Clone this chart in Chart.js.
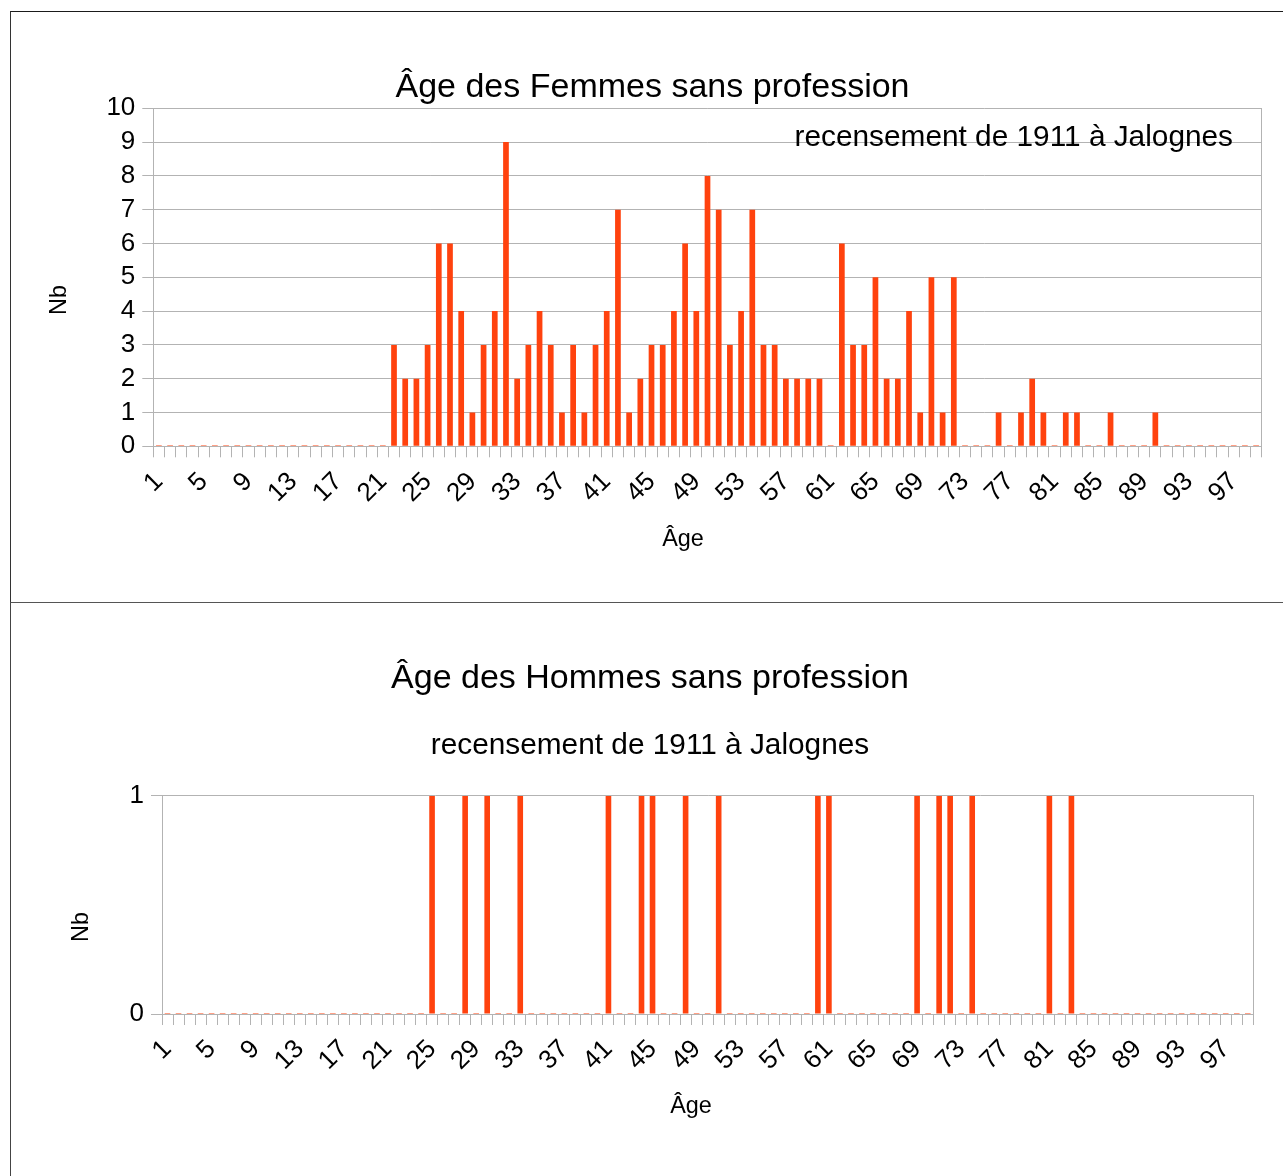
<!DOCTYPE html>
<html>
<head>
<meta charset="utf-8">
<script src="https://cdn.jsdelivr.net/npm/chart.js@4"></script>
<style>
  html, body { margin: 0; padding: 0; background: #fff; overflow: hidden; width: 1283px; height: 1176px; }
  .box { position: absolute; background: #fff; }
  #boxTop { left: 10px; top: 11px; width: 1300px; height: 590px; border-top: 1px solid #1a1a1a; border-left: 1px solid #333; }
  #boxBottom { left: 10px; top: 602px; width: 1300px; height: 600px; border-top: 1px solid #555; border-left: 1px solid #444; }
  canvas { position: absolute; left: 0; top: 0; }
</style>
</head>
<body>
<div class="box" id="boxTop"><canvas id="cTop" width="1283" height="590"></canvas></div>
<div class="box" id="boxBottom"><canvas id="cBottom" width="1278" height="573"></canvas></div>
<script>
// ---- Data ----
const ages = ['1','2','3','4','5','6','7','8','9','10','11','12','13','14','15','16','17','18','19','20',
  '21','22','23','24','25','26','27','28','29','30','31','32','33','34','35','36','37','38','39','40',
  '41','42','43','44','45','46','47','48','49','50','51','52','53','54','55','56','57','58','59','60',
  '61','62','63','64','65','66','67','68','69','70','71','72','73','74','75','76','77','78','79','80',
  '81','82','83','84','85','86','87','88','89','90','91','92','93','94','95','96','97','98','99'];

const shownAgeLabels = ['1','5','9','13','17','21','25','29','33','37','41','45','49','53','57','61','65','69','73','77','81','85','89','93','97'];

// Femmes sans profession (ages 1..99)
const femmes = [
  0,0,0,0,0,0,0,0,0,0,      // 1-10
  0,0,0,0,0,0,0,0,0,0,      // 11-20
  0,3,2,2,3,6,6,4,1,3,      // 21-30
  4,9,2,3,4,3,1,3,1,3,      // 31-40
  4,7,1,2,3,3,4,6,4,8,      // 41-50
  7,3,4,7,3,3,2,2,2,2,      // 51-60
  0,6,3,3,5,2,2,4,1,5,      // 61-70
  1,5,0,0,0,1,0,1,2,1,      // 71-80
  0,1,1,0,0,1,0,0,0,1,      // 81-90
  0,0,0,0,0,0,0,0,0         // 91-99
];

// Hommes sans profession (ages 1..99)
const hommes = [
  0,0,0,0,0,0,0,0,0,0,      // 1-10
  0,0,0,0,0,0,0,0,0,0,      // 11-20
  0,0,0,0,1,0,0,1,0,1,      // 21-30
  0,0,1,0,0,0,0,0,0,0,      // 31-40
  1,0,0,1,1,0,0,1,0,0,      // 41-50
  1,0,0,0,0,0,0,0,0,1,      // 51-60
  1,0,0,0,0,0,0,0,1,0,      // 61-70
  1,1,0,1,0,0,0,0,0,0,      // 71-80
  1,0,1,0,0,0,0,0,0,0,      // 81-90
  0,0,0,0,0,0,0,0,0         // 91-99
];

const titleFemmes = 'Âge des Femmes sans profession';
const titleHommes = 'Âge des Hommes sans profession';
const subtitleText = 'recensement de 1911 à Jalognes';
const xTitle = 'Âge';
const yTitle = 'Nb';

// ---- Styles ----
const BAR = '#ff420e';
const GRID = '#b3b3b3';
const FONT = "'Liberation Sans', Arial, sans-serif";
Chart.defaults.font.family = FONT;
Chart.defaults.color = '#000';

// Axis titles (placed like the original LibreOffice layout) and the in-plot subtitle
const extraText = {
  id: 'extraText',
  afterDatasetsDraw(chart, args, opts) {
    const {ctx, chartArea} = chart;
    ctx.save();
    ctx.fillStyle = '#000';
    if (opts.innerSubtitle) {
      ctx.font = '29.8px ' + FONT;
      ctx.textAlign = 'right';
      ctx.textBaseline = 'alphabetic';
      ctx.fillText(opts.innerSubtitle, chartArea.right - opts.subDx, chartArea.top + opts.subDy);
    }
    ctx.font = '23.4px ' + FONT;
    ctx.textAlign = 'center';
    ctx.textBaseline = 'middle';
    // x axis title
    ctx.fillText(opts.xText, (chartArea.left + chartArea.right) / 2 + opts.xDx, chartArea.bottom + opts.xDy);
    // y axis title
    ctx.translate(chartArea.left - opts.nbDx, (chartArea.top + chartArea.bottom) / 2 + opts.nbDy);
    ctx.rotate(-Math.PI / 2);
    ctx.fillText(opts.yText, 0, 0);
    ctx.restore();
  }
};

function makeChart(id, data, cfg) {
  return new Chart(document.getElementById(id), {
    type: 'bar',
    data: {
      labels: ages,
      datasets: [{
        data: data,
        backgroundColor: BAR,
        borderWidth: 0,
        barPercentage: 0.51,
        categoryPercentage: 1.0,
        minBarLength: 1
      }]
    },
    options: {
      responsive: false,
      animation: false,
      events: [],
      layout: { padding: { left: 0, right: 0, top: 0, bottom: cfg.padBottom } },
      plugins: {
        legend: { display: false },
        tooltip: { enabled: false },
        title: {
          display: true,
          text: cfg.title,
          font: { size: 34, weight: 'normal' },
          color: '#000',
          padding: { top: 54.8, bottom: cfg.titlePadBottom }
        },
        subtitle: cfg.subtitle ? {
          display: true,
          text: cfg.subtitle,
          font: { size: 29.8, weight: 'normal' },
          color: '#000',
          padding: { top: 29.2, bottom: 32.4 }
        } : { display: false },
        extraText: {
          innerSubtitle: cfg.innerSubtitle || null,
          subDx: 28.7, subDy: 37.2,
          xText: xTitle, xDx: cfg.xDx, xDy: 93,
          yText: yTitle, nbDx: cfg.nbDx, nbDy: cfg.nbDy
        }
      },
      scales: {
        x: {
          grid: { display: true, drawOnChartArea: false, drawTicks: true, tickLength: 11, color: GRID, offset: true },
          border: { display: true, color: GRID },
          ticks: {
            autoSkip: false,
            maxRotation: 45,
            minRotation: 45,
            padding: 9,
            font: { size: 26 },
            color: '#000',
            callback: function(value, index) {
              const lab = ages[index];
              return shownAgeLabels.includes(lab) ? lab : '';
            }
          },
          title: { display: false },
          afterFit: (s) => { s.height = cfg.xHeight; }
        },
        y: {
          min: 0,
          max: cfg.yMax,
          grid: { color: GRID, tickLength: 11, drawTicks: true },
          border: { display: true, color: GRID },
          ticks: { stepSize: 1, autoSkip: false, maxTicksLimit: 20, padding: 7, font: { size: 26 }, color: '#000' },
          afterFit: (s) => { s.width = cfg.yWidth; }
        },
        y2: {
          position: 'right',
          min: 0,
          max: cfg.yMax,
          grid: { drawOnChartArea: false, drawTicks: false },
          border: { display: true, color: GRID },
          ticks: { display: false },
          afterFit: (s) => { s.width = cfg.rightWidth; }
        }
      }
    },
    plugins: [extraText]
  });
}

makeChart('cTop', femmes, {
  title: titleFemmes,
  subtitle: null,
  innerSubtitle: subtitleText,
  titlePadBottom: 0.7,
  rightWidth: 32.3,
  padBottom: 49,
  xHeight: 106.7,
  yWidth: 142.3,
  yMax: 10,
  xDx: -24.5,
  nbDx: 93.3,
  nbDy: 22.7
});

makeChart('cBottom', hommes, {
  title: titleHommes,
  subtitle: subtitleText,
  titlePadBottom: 0,
  rightWidth: 35.7,
  padBottom: 55,
  xHeight: 107,
  yWidth: 151,
  yMax: 1,
  xDx: -16.6,
  nbDx: 80,
  nbDy: 22
});
</script>
</body>
</html>
